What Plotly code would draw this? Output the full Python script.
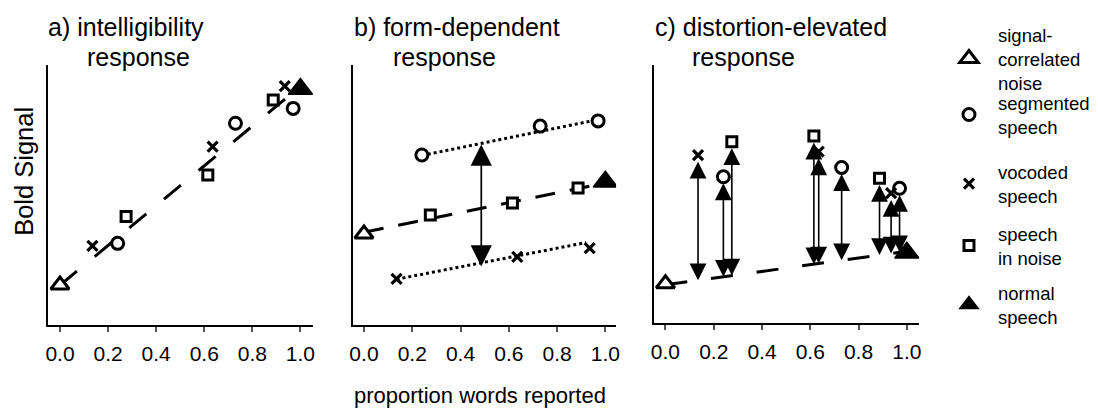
import numpy as np
import plotly.graph_objects as go

FONT = "Liberation Sans, Arial, Helvetica, sans-serif"
W, H = 1098, 409

# ---------------- data ----------------
condition_names = ["signal-<br>correlated<br>noise", "segmented<br>speech",
                   "vocoded<br>speech", "speech<br>in noise", "normal<br>speech"]
panel_titles = ["a) intelligibility", "b) form-dependent", "c) distortion-elevated"]
panel_subtitle = "response"
tick_values = [0.0, 0.2, 0.4, 0.6, 0.8, 1.0]
tick_labels = ["0.0", "0.2", "0.4", "0.6", "0.8", "1.0"]
x_title = "proportion words reported"
y_title = "Bold Signal"

# proportion words reported, per condition
scn_x = [0.0]
seg_x = [0.24, 0.73, 0.97]
voc_x = [0.135, 0.635, 0.935]
sin_x = [0.275, 0.615, 0.887]
norm_x = [1.0]

# BOLD signal (arbitrary units) - panel a
a_scn_y = [15.4]
a_seg_y = [31.4, 77.6, 83.3]
a_voc_y = [30.4, 68.6, 91.9]
a_sin_y = [41.7, 57.7, 86.5]
a_norm_y = [90.8]
a_fit_x = [0.0, 1.0]
a_fit_y = [15.3, 91.8]

# panel b
b_scn_y = [35.0]
b_seg_y = [65.4, 76.5, 78.5]
b_voc_y = [17.7, 26.2, 29.6]
b_sin_y = [42.3, 46.9, 52.7]
b_norm_y = [55.1]
b_fit_x = [0.0, 1.0]
b_fit_y = [35.7, 54.6]
b_seg_fit_x = [0.24, 0.97]
b_seg_fit_y = [65.2, 79.0]
b_voc_fit_x = [0.135, 0.92]
b_voc_fit_y = [17.6, 31.7]
b_arrow_x = [0.486]
b_arrow_top = [70.0]
b_arrow_bottom = [22.5]

# panel c
c_scn_y = [15.2]
c_seg_y = [56.7, 60.3, 52.2]
c_voc_y = [65.1, 66.4, 50.3]
c_sin_y = [70.3, 72.5, 56.1]
c_norm_y = [27.2]
c_fit_x = [0.0, 1.0]
c_fit_y = [14.8, 27.8]

# ---------------- styles ----------------
styles = {
    "scn": dict(symbol="triangle-up", size=16, color="white", lw=3),
    "seg": dict(symbol="circle", size=12, color="white", lw=3),
    "voc": dict(symbol="x-thin", size=10, color="black", lw=3.2),
    "sin": dict(symbol="square", size=10, color="white", lw=3),
    "norm": dict(symbol="triangle-up", size=21, color="black", lw=1.5),
}
order = ["scn", "seg", "voc", "sin", "norm"]
legend_keys = ["legend", "legend2", "legend3", "legend4", "legend5"]
legend_centers_px = [59, 115, 184, 246, 305]


def px_x(p):
    return p / W


def px_y(p):
    return 1 - p / H


fig = go.Figure()


def add_line(xa, ya, x, y, dash):
    fig.add_trace(go.Scatter(x=x, y=y, xaxis=xa, yaxis=ya, mode="lines",
                             line=dict(color="black", width=3, dash=dash),
                             showlegend=False, hoverinfo="skip"))


def add_points(xa, ya, data, with_legend):
    for i, key in enumerate(order):
        st = styles[key]
        x, y = data[key]
        fig.add_trace(go.Scatter(
            x=x, y=y, xaxis=xa, yaxis=ya, mode="markers",
            name=condition_names[i], legend=legend_keys[i],
            showlegend=with_legend, hoverinfo="skip",
            marker=dict(symbol=st["symbol"], size=st["size"], color=st["color"],
                        line=dict(color="black", width=st["lw"]))))


# panel a
add_line("x", "y", a_fit_x, a_fit_y, "22px,23px")
add_points("x", "y", {"scn": (scn_x, a_scn_y), "seg": (seg_x, a_seg_y),
                      "voc": (voc_x, a_voc_y), "sin": (sin_x, a_sin_y),
                      "norm": (norm_x, a_norm_y)}, True)
# panel b
add_line("x2", "y2", b_fit_x, b_fit_y, "20px,15px")
add_line("x2", "y2", b_seg_fit_x, b_seg_fit_y, "dot")
add_line("x2", "y2", b_voc_fit_x, b_voc_fit_y, "dot")
add_points("x2", "y2", {"scn": (scn_x, b_scn_y), "seg": (seg_x, b_seg_y),
                        "voc": (voc_x, b_voc_y), "sin": (sin_x, b_sin_y),
                        "norm": (norm_x, b_norm_y)}, False)
# panel c
add_line("x3", "y3", c_fit_x, c_fit_y, "22px,24px")
add_points("x3", "y3", {"scn": (scn_x, c_scn_y), "seg": (seg_x, c_seg_y),
                        "voc": (voc_x, c_voc_y), "sin": (sin_x, c_sin_y),
                        "norm": (norm_x, c_norm_y)}, False)

annotations = []


def double_arrow(xref, yref, x, y_top, y_bottom, width, size):
    return dict(xref=xref, yref=yref, axref=xref, ayref=yref,
                x=x, y=y_bottom, ax=x, ay=y_top, text="", showarrow=True,
                arrowhead=2, startarrowhead=2, arrowside="end+start",
                arrowsize=size, startarrowsize=size, arrowwidth=width,
                arrowcolor="black", standoff=0, startstandoff=0)


for xv, yt, yb in zip(b_arrow_x, b_arrow_top, b_arrow_bottom):
    annotations.append(double_arrow("x2", "y2", xv, yt, yb, 1.7, 2.5))

marker_gap = 2.0  # arrow tip sits just under each marker
for xs, ys in [(voc_x, c_voc_y), (seg_x, c_seg_y), (sin_x, c_sin_y)]:
    for xv, yv in zip(xs, ys):
        base = float(np.interp(xv, c_fit_x, c_fit_y))
        annotations.append(double_arrow("x3", "y3", xv, yv - marker_gap, base, 1.6, 2.1))

# titles
title_left_px = [43, 351, 654]
sub_left_px = [83, 390, 691]
for t, lx, sx in zip(panel_titles, title_left_px, sub_left_px):
    annotations.append(dict(xref="paper", yref="paper", x=px_x(lx), y=px_y(27),
                            xanchor="left", yanchor="middle", text=t, showarrow=False,
                            font=dict(family=FONT, size=25, color="black")))
    annotations.append(dict(xref="paper", yref="paper", x=px_x(sx), y=px_y(57),
                            xanchor="left", yanchor="middle", text=panel_subtitle,
                            showarrow=False,
                            font=dict(family=FONT, size=25, color="black")))

annotations.append(dict(xref="paper", yref="paper", x=px_x(21), y=px_y(171),
                        xanchor="center", yanchor="middle", text=y_title, textangle=-90,
                        showarrow=False, font=dict(family=FONT, size=25.5, color="black")))
annotations.append(dict(xref="paper", yref="paper", x=px_x(480), y=px_y(395),
                        xanchor="center", yanchor="middle", text=x_title,
                        showarrow=False, font=dict(family=FONT, size=22, color="black")))

common_x = dict(showgrid=False, zeroline=False, showline=True, linecolor="black",
                linewidth=2, ticks="outside", ticklen=5, tickwidth=1.5, tickcolor="#555",
                tickvals=tick_values, ticktext=tick_labels,
                tickfont=dict(family=FONT, size=21, color="black"),
                ticklabelstandoff=4, fixedrange=True)
common_y = dict(showgrid=False, zeroline=False, showline=True, linecolor="black",
                linewidth=2, ticks="", showticklabels=False, range=[0, 100],
                fixedrange=True)

layout = dict(
    width=W, height=H, margin=dict(l=0, r=0, t=0, b=0),
    paper_bgcolor="white", plot_bgcolor="white",
    font=dict(family=FONT, color="black"),
    xaxis=dict(common_x, domain=[px_x(45), px_x(312)], range=[-0.051, 1.0525], anchor="y"),
    yaxis=dict(common_y, domain=[px_y(325), px_y(65)], anchor="x"),
    xaxis2=dict(common_x, domain=[px_x(352), px_x(617)], range=[-0.0464, 1.0444], anchor="y2"),
    yaxis2=dict(common_y, domain=[px_y(325), px_y(65)], anchor="x2"),
    xaxis3=dict(common_x, domain=[px_x(655), px_x(922)], range=[-0.0482, 1.0511], anchor="y3"),
    yaxis3=dict(common_y, domain=[px_y(323), px_y(65)], anchor="x3"),
    annotations=annotations,
)
for key, cy in zip(legend_keys, legend_centers_px):
    layout[key] = dict(x=px_x(943), xanchor="left", y=px_y(cy), yanchor="middle",
                       bgcolor="rgba(0,0,0,0)", borderwidth=0, itemwidth=48,
                       valign="middle",
                       font=dict(family=FONT, size=18.5, color="black"))

fig.update_layout(**layout)
fig.write_html("out.html", config={"displayModeBar": False})
